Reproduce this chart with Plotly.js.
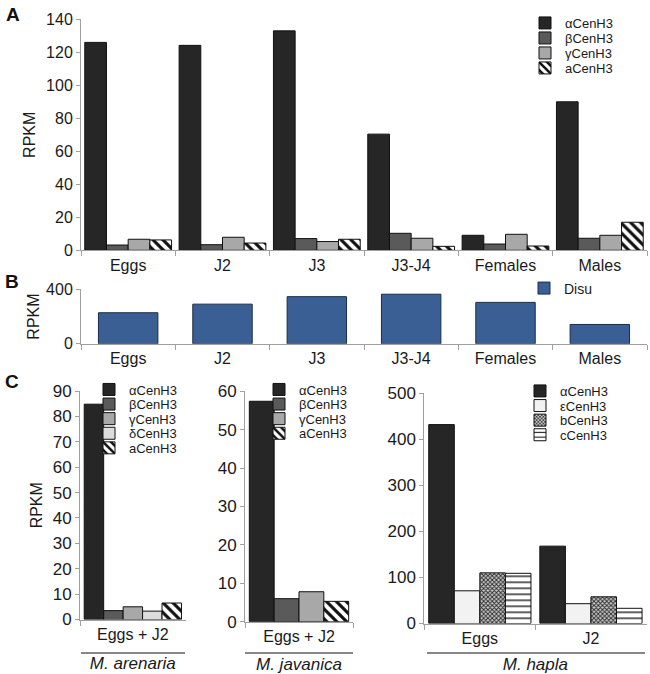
<!DOCTYPE html>
<html><head><meta charset="utf-8">
<script src="https://cdn.plot.ly/plotly-3.0.1.min.js"></script>
<style>html,body{margin:0;padding:0;background:#fff}#chart{width:650px;height:674px}</style>
</head><body><div id="chart"></div>
<script>
// ---------- data ----------
const stagesA = ['Eggs', 'J2', 'J3', 'J3-J4', 'Females', 'Males'];
const alphaA = [126, 124.2, 133, 70.4, 9.1, 90];
const betaA  = [3.2, 3.4, 7.1, 10.3, 3.8, 7.3];
const gammaA = [6.7, 7.9, 5.3, 7.3, 9.7, 9.1];
const aA     = [6.3, 4.4, 6.7, 2.4, 2.6, 17];

const stagesB = ['Eggs', 'J2', 'J3', 'J3-J4', 'Females', 'Males'];
const disuB = [228, 291, 346, 364, 304, 142];

const catArenaria = ['Eggs + J2'];
const arenAlpha = [84.8];
const arenBeta  = [3.5];
const arenGamma = [5.0];
const arenDelta = [3.3];
const arenA     = [6.5];

const catJavanica = ['Eggs + J2'];
const javAlpha = [57.4];
const javBeta  = [6.0];
const javGamma = [7.8];
const javA     = [5.3];

const catHapla = ['Eggs', 'J2'];
const hapAlpha   = [432, 168];
const hapEpsilon = [71, 43];
const hapB       = [110, 58];
const hapC       = [109, 33];

const namesA = ['αCenH3', 'βCenH3', 'γCenH3', 'aCenH3'];
const namesArenaria = ['αCenH3', 'βCenH3', 'γCenH3', 'δCenH3', 'aCenH3'];
const namesJavanica = ['αCenH3', 'βCenH3', 'γCenH3', 'aCenH3'];
const namesHapla = ['αCenH3', 'εCenH3', 'bCenH3', 'cCenH3'];
const species = ['M. arenaria', 'M. javanica', 'M. hapla'];

// ---------- styles ----------
const W = 650, H = 674;
const px = v => v / W;
const py = v => 1 - v / H;
const FONT = 'Liberation Sans, Arial, sans-serif';
const AXC = '#a0a0a0';
const OUT = {color: '#111', width: 1};

const sty = {
  alpha: {color: '#262626', line: OUT},
  beta: {color: '#5a5a5a', line: OUT},
  gamma: {color: '#a8a8a8', line: OUT},
  delta: {color: '#dcdcdc', line: OUT},
  hatch: {color: 'white', line: OUT, pattern: {shape: '\\', bgcolor: 'white', fgcolor: '#111', size: 7, solidity: 0.45}},
  eps: {color: '#f2f2f2', line: OUT},
  check: {color: '#888', line: OUT, pattern: {shape: 'x', bgcolor: '#c8c8c8', fgcolor: '#2a2a2a', size: 3, solidity: 0.5}},
  hlines: {color: 'white', line: OUT, pattern: {shape: '-', bgcolor: 'white', fgcolor: '#111', size: 6, solidity: 0.22}},
  disu: {color: '#3a5f95', line: {color: '#1c2c46', width: 1}}
};

const traces = [];
const legends = {};
let legIdx = 0;
function addBar(x, y, name, marker, xa, ya, textX, yCenter, fsize, extra) {
  legIdx++;
  const lk = legIdx === 1 ? 'legend' : 'legend' + legIdx;
  legends[lk] = {x: px(textX - 40), xanchor: 'left', y: py(yCenter), yanchor: 'middle',
    bgcolor: 'rgba(0,0,0,0)', borderwidth: 0, font: {size: fsize, family: FONT, color: '#1a1a1a'}};
  traces.push(Object.assign({type: 'bar', x: x, y: y, name: name, marker: marker,
    xaxis: xa, yaxis: ya, legend: lk, showlegend: true, hoverinfo: 'x+y+name'}, extra || {}));
}

// Panel A
const mA = [sty.alpha, sty.beta, sty.gamma, sty.hatch];
const dA = [alphaA, betaA, gammaA, aA];
const rowsA = [23, 38, 53, 68];
dA.forEach((d, i) => addBar(stagesA, d, namesA[i], mA[i], 'x', 'y', 565, rowsA[i], 13));
// Panel B
addBar(stagesB, disuB, 'Disu', sty.disu, 'x2', 'y2', 564, 288.5, 14, {width: 0.63});
// Panel C1
const mC1 = [sty.alpha, sty.beta, sty.gamma, sty.delta, sty.hatch];
const dC1 = [arenAlpha, arenBeta, arenGamma, arenDelta, arenA];
const rowsC = [389.5, 404.1, 418.7, 433.3, 447.9];
dC1.forEach((d, i) => addBar(catArenaria, d, namesArenaria[i], mC1[i], 'x3', 'y3', 129, rowsC[i], 13));
// Panel C2
const mC2 = [sty.alpha, sty.beta, sty.gamma, sty.hatch];
const dC2 = [javAlpha, javBeta, javGamma, javA];
dC2.forEach((d, i) => addBar(catJavanica, d, namesJavanica[i], mC2[i], 'x4', 'y4', 299, rowsC[i], 13));
// Panel C3
const mC3 = [sty.alpha, sty.eps, sty.check, sty.hlines];
const dC3 = [hapAlpha, hapEpsilon, hapB, hapC];
const rowsC3 = [391, 405.6, 420.2, 434.8];
dC3.forEach((d, i) => addBar(catHapla, d, namesHapla[i], mC3[i], 'x5', 'y5', 560, rowsC3[i], 13));

function xax(x0, x1, anchor, title) {
  const o = {domain: [px(x0), px(x1)], anchor: anchor, type: 'category', showline: true, linecolor: AXC, linewidth: 1,
    ticks: 'outside', ticklen: 5, tickcolor: AXC, tickson: 'boundaries', showgrid: false, zeroline: false,
    tickfont: {size: 16, family: FONT, color: '#1a1a1a'}, fixedrange: true};
  if (title) o.title = {text: '<i>' + title + '</i>', font: {size: 17, family: FONT, color: '#1a1a1a'}, standoff: 15};
  return o;
}
function yax(y0, y1, anchor, range, dtick, title, standoff, fs) {
  const o = {domain: [py(y1), py(y0)], anchor: anchor, range: range, dtick: dtick, showline: true, linecolor: AXC, linewidth: 1,
    ticks: 'outside', ticklen: 4, tickcolor: AXC, showgrid: false, zeroline: false,
    tickfont: {size: fs || 16, family: FONT, color: '#1a1a1a'}, fixedrange: true};
  if (title) o.title = {text: title, font: {size: 16, family: FONT, color: '#1a1a1a'}, standoff: standoff};
  return o;
}

const layout = Object.assign({
  width: W, height: H, margin: {l: 0, r: 0, t: 0, b: 0},
  paper_bgcolor: 'white', plot_bgcolor: 'rgba(0,0,0,0)',
  font: {family: FONT, color: '#1a1a1a', size: 16},
  barmode: 'group', bargap: 0.08, bargroupgap: 0,
  xaxis: xax(81, 647, 'y'),
  yaxis: yax(19.3, 250.3, 'x', [0, 140], 20, 'RPKM', 6),
  xaxis2: xax(81, 647, 'y2'),
  yaxis2: yax(289.3, 343.8, 'x2', [0, 400], 400, 'RPKM', 2),
  xaxis3: xax(80, 185.7, 'y3', species[0]),
  yaxis3: yax(391, 619.5, 'x3', [0, 90], 10, 'RPKM', 6, 17),
  xaxis4: xax(245, 353, 'y4', species[1]),
  yaxis4: yax(391.3, 621.7, 'x4', [0, 60], 10, null, 0, 17),
  xaxis5: xax(424.3, 646.5, 'y5', species[2]),
  yaxis5: yax(393.3, 623.5, 'x5', [0, 500], 100, null, 0, 17),
  shapes: [
    {type: 'line', xref: 'paper', yref: 'paper', x0: px(81), x1: px(185), y0: py(653), y1: py(653), line: {color: '#111', width: 1.2}},
    {type: 'line', xref: 'paper', yref: 'paper', x0: px(245), x1: px(353), y0: py(653), y1: py(653), line: {color: '#111', width: 1.2}},
    {type: 'line', xref: 'paper', yref: 'paper', x0: px(427), x1: px(645), y0: py(653), y1: py(653), line: {color: '#111', width: 1.2}}
  ],
  annotations: [
    {text: '<b>A</b>', x: px(4), y: py(14), xref: 'paper', yref: 'paper', xanchor: 'left', yanchor: 'middle', showarrow: false, font: {size: 19, family: FONT, color: '#111'}},
    {text: '<b>B</b>', x: px(3), y: py(281), xref: 'paper', yref: 'paper', xanchor: 'left', yanchor: 'middle', showarrow: false, font: {size: 19, family: FONT, color: '#111'}},
    {text: '<b>C</b>', x: px(3), y: py(381), xref: 'paper', yref: 'paper', xanchor: 'left', yanchor: 'middle', showarrow: false, font: {size: 19, family: FONT, color: '#111'}}
  ]
}, legends);

Plotly.newPlot('chart', traces, layout, {displayModeBar: false, staticPlot: true});
</script>
</body></html>
